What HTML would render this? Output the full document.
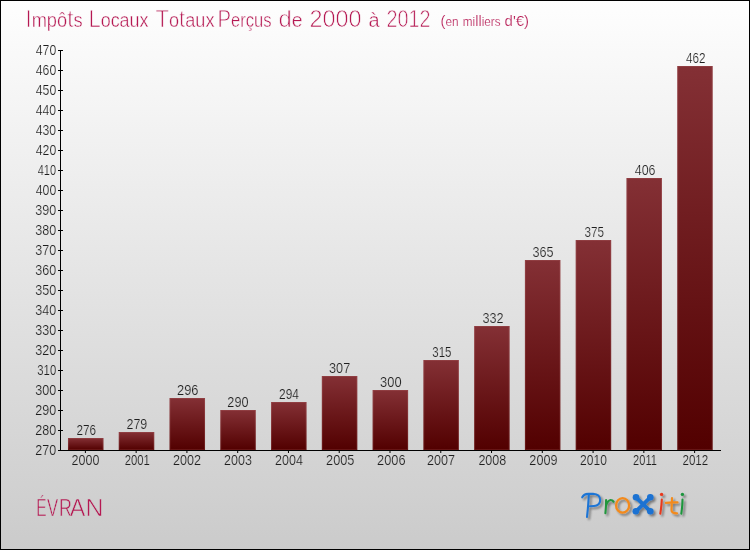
<!DOCTYPE html>
<html><head><meta charset="utf-8"><style>
html,body{margin:0;padding:0;width:750px;height:550px;overflow:hidden;}
svg text,svg tspan{font-family:"Liberation Sans",sans-serif;}
#frame{position:absolute;left:0;top:0;width:748px;height:548px;border:1px solid #000;background:linear-gradient(#fefefe,#cbcbcb);}
</style></head><body>
<div id="frame"></div>
<svg width="750" height="550" style="position:absolute;left:0;top:0;will-change:transform">
<defs><linearGradient id="gb" x1="0" y1="0" x2="0" y2="1"><stop offset="0" stop-color="#843035"/><stop offset="1" stop-color="#520000"/></linearGradient>
<filter id="sh" x="-20%" y="-20%" width="140%" height="140%"><feGaussianBlur in="SourceAlpha" stdDeviation="0.8"/><feOffset dx="2.2" dy="2.2"/><feComponentTransfer><feFuncA type="linear" slope="0.42"/></feComponentTransfer><feMerge><feMergeNode/><feMergeNode in="SourceGraphic"/></feMerge></filter>
</defs>
<g><rect x="67.98" y="438" width="35.5" height="12" fill="url(#gb)"/><rect x="67.98" y="438" width="1" height="12" fill="rgba(255,190,190,0.13)"/><rect x="102.48" y="438" width="1" height="12" fill="rgba(255,190,190,0.13)"/><rect x="68.98" y="438" width="33.50" height="1" fill="rgba(255,190,190,0.1)"/><rect x="68.98" y="449" width="33.50" height="1" fill="rgba(255,170,170,0.12)"/><line x1="85.38" y1="450" x2="85.38" y2="453" stroke="#000" stroke-width="1"/><rect x="118.75" y="432" width="35.5" height="18" fill="url(#gb)"/><rect x="118.75" y="432" width="1" height="18" fill="rgba(255,190,190,0.13)"/><rect x="153.25" y="432" width="1" height="18" fill="rgba(255,190,190,0.13)"/><rect x="119.75" y="432" width="33.50" height="1" fill="rgba(255,190,190,0.1)"/><rect x="119.75" y="449" width="33.50" height="1" fill="rgba(255,170,170,0.12)"/><line x1="136.15" y1="450" x2="136.15" y2="453" stroke="#000" stroke-width="1"/><rect x="169.52" y="398" width="35.5" height="52" fill="url(#gb)"/><rect x="169.52" y="398" width="1" height="52" fill="rgba(255,190,190,0.13)"/><rect x="204.02" y="398" width="1" height="52" fill="rgba(255,190,190,0.13)"/><rect x="170.52" y="398" width="33.50" height="1" fill="rgba(255,190,190,0.1)"/><rect x="170.52" y="449" width="33.50" height="1" fill="rgba(255,170,170,0.12)"/><line x1="186.92" y1="450" x2="186.92" y2="453" stroke="#000" stroke-width="1"/><rect x="220.29" y="410" width="35.5" height="40" fill="url(#gb)"/><rect x="220.29" y="410" width="1" height="40" fill="rgba(255,190,190,0.13)"/><rect x="254.79" y="410" width="1" height="40" fill="rgba(255,190,190,0.13)"/><rect x="221.29" y="410" width="33.50" height="1" fill="rgba(255,190,190,0.1)"/><rect x="221.29" y="449" width="33.50" height="1" fill="rgba(255,170,170,0.12)"/><line x1="237.69" y1="450" x2="237.69" y2="453" stroke="#000" stroke-width="1"/><rect x="271.06" y="402" width="35.5" height="48" fill="url(#gb)"/><rect x="271.06" y="402" width="1" height="48" fill="rgba(255,190,190,0.13)"/><rect x="305.56" y="402" width="1" height="48" fill="rgba(255,190,190,0.13)"/><rect x="272.06" y="402" width="33.50" height="1" fill="rgba(255,190,190,0.1)"/><rect x="272.06" y="449" width="33.50" height="1" fill="rgba(255,170,170,0.12)"/><line x1="288.46" y1="450" x2="288.46" y2="453" stroke="#000" stroke-width="1"/><rect x="321.83" y="376" width="35.5" height="74" fill="url(#gb)"/><rect x="321.83" y="376" width="1" height="74" fill="rgba(255,190,190,0.13)"/><rect x="356.33" y="376" width="1" height="74" fill="rgba(255,190,190,0.13)"/><rect x="322.83" y="376" width="33.50" height="1" fill="rgba(255,190,190,0.1)"/><rect x="322.83" y="449" width="33.50" height="1" fill="rgba(255,170,170,0.12)"/><line x1="339.23" y1="450" x2="339.23" y2="453" stroke="#000" stroke-width="1"/><rect x="372.60" y="390" width="35.5" height="60" fill="url(#gb)"/><rect x="372.60" y="390" width="1" height="60" fill="rgba(255,190,190,0.13)"/><rect x="407.10" y="390" width="1" height="60" fill="rgba(255,190,190,0.13)"/><rect x="373.60" y="390" width="33.50" height="1" fill="rgba(255,190,190,0.1)"/><rect x="373.60" y="449" width="33.50" height="1" fill="rgba(255,170,170,0.12)"/><line x1="390.00" y1="450" x2="390.00" y2="453" stroke="#000" stroke-width="1"/><rect x="423.37" y="360" width="35.5" height="90" fill="url(#gb)"/><rect x="423.37" y="360" width="1" height="90" fill="rgba(255,190,190,0.13)"/><rect x="457.87" y="360" width="1" height="90" fill="rgba(255,190,190,0.13)"/><rect x="424.37" y="360" width="33.50" height="1" fill="rgba(255,190,190,0.1)"/><rect x="424.37" y="449" width="33.50" height="1" fill="rgba(255,170,170,0.12)"/><line x1="440.77" y1="450" x2="440.77" y2="453" stroke="#000" stroke-width="1"/><rect x="474.14" y="326" width="35.5" height="124" fill="url(#gb)"/><rect x="474.14" y="326" width="1" height="124" fill="rgba(255,190,190,0.13)"/><rect x="508.64" y="326" width="1" height="124" fill="rgba(255,190,190,0.13)"/><rect x="475.14" y="326" width="33.50" height="1" fill="rgba(255,190,190,0.1)"/><rect x="475.14" y="449" width="33.50" height="1" fill="rgba(255,170,170,0.12)"/><line x1="491.54" y1="450" x2="491.54" y2="453" stroke="#000" stroke-width="1"/><rect x="524.91" y="260" width="35.5" height="190" fill="url(#gb)"/><rect x="524.91" y="260" width="1" height="190" fill="rgba(255,190,190,0.13)"/><rect x="559.41" y="260" width="1" height="190" fill="rgba(255,190,190,0.13)"/><rect x="525.91" y="260" width="33.50" height="1" fill="rgba(255,190,190,0.1)"/><rect x="525.91" y="449" width="33.50" height="1" fill="rgba(255,170,170,0.12)"/><line x1="542.31" y1="450" x2="542.31" y2="453" stroke="#000" stroke-width="1"/><rect x="575.68" y="240" width="35.5" height="210" fill="url(#gb)"/><rect x="575.68" y="240" width="1" height="210" fill="rgba(255,190,190,0.13)"/><rect x="610.18" y="240" width="1" height="210" fill="rgba(255,190,190,0.13)"/><rect x="576.68" y="240" width="33.50" height="1" fill="rgba(255,190,190,0.1)"/><rect x="576.68" y="449" width="33.50" height="1" fill="rgba(255,170,170,0.12)"/><line x1="593.08" y1="450" x2="593.08" y2="453" stroke="#000" stroke-width="1"/><rect x="626.45" y="178" width="35.5" height="272" fill="url(#gb)"/><rect x="626.45" y="178" width="1" height="272" fill="rgba(255,190,190,0.13)"/><rect x="660.95" y="178" width="1" height="272" fill="rgba(255,190,190,0.13)"/><rect x="627.45" y="178" width="33.50" height="1" fill="rgba(255,190,190,0.1)"/><rect x="627.45" y="449" width="33.50" height="1" fill="rgba(255,170,170,0.12)"/><line x1="643.85" y1="450" x2="643.85" y2="453" stroke="#000" stroke-width="1"/><rect x="677.22" y="66" width="35.5" height="384" fill="url(#gb)"/><rect x="677.22" y="66" width="1" height="384" fill="rgba(255,190,190,0.13)"/><rect x="711.72" y="66" width="1" height="384" fill="rgba(255,190,190,0.13)"/><rect x="678.22" y="66" width="33.50" height="1" fill="rgba(255,190,190,0.1)"/><rect x="678.22" y="449" width="33.50" height="1" fill="rgba(255,170,170,0.12)"/><line x1="694.62" y1="450" x2="694.62" y2="453" stroke="#000" stroke-width="1"/></g>
<g stroke="#000" stroke-width="1">
<line x1="60.5" y1="50" x2="60.5" y2="451"/>
<line x1="58" y1="450.5" x2="721" y2="450.5"/>
<line x1="58" y1="450.5" x2="63" y2="450.5"/><line x1="58" y1="430.5" x2="63" y2="430.5"/><line x1="58" y1="410.5" x2="63" y2="410.5"/><line x1="58" y1="390.5" x2="63" y2="390.5"/><line x1="58" y1="370.5" x2="63" y2="370.5"/><line x1="58" y1="350.5" x2="63" y2="350.5"/><line x1="58" y1="330.5" x2="63" y2="330.5"/><line x1="58" y1="310.5" x2="63" y2="310.5"/><line x1="58" y1="290.5" x2="63" y2="290.5"/><line x1="58" y1="270.5" x2="63" y2="270.5"/><line x1="58" y1="250.5" x2="63" y2="250.5"/><line x1="58" y1="230.5" x2="63" y2="230.5"/><line x1="58" y1="210.5" x2="63" y2="210.5"/><line x1="58" y1="190.5" x2="63" y2="190.5"/><line x1="58" y1="170.5" x2="63" y2="170.5"/><line x1="58" y1="150.5" x2="63" y2="150.5"/><line x1="58" y1="130.5" x2="63" y2="130.5"/><line x1="58" y1="110.5" x2="63" y2="110.5"/><line x1="58" y1="90.5" x2="63" y2="90.5"/><line x1="58" y1="70.5" x2="63" y2="70.5"/><line x1="58" y1="50.5" x2="63" y2="50.5"/>
</g>
<g font-size="14" fill="#1e1e1e" stroke-width="0.2"><text x="35.37" y="454.90" stroke="#d4d4d4" textLength="20.95" lengthAdjust="spacingAndGlyphs">270</text><text x="35.37" y="434.90" stroke="#d6d6d6" textLength="20.94" lengthAdjust="spacingAndGlyphs">280</text><text x="35.37" y="414.90" stroke="#d8d8d8" textLength="20.95" lengthAdjust="spacingAndGlyphs">290</text><text x="35.31" y="394.90" stroke="#d9d9d9" textLength="20.99" lengthAdjust="spacingAndGlyphs">300</text><text x="37.34" y="374.90" stroke="#dbdbdb" textLength="18.84" lengthAdjust="spacingAndGlyphs">310</text><text x="35.30" y="354.90" stroke="#dddddd" textLength="21.02" lengthAdjust="spacingAndGlyphs">320</text><text x="35.32" y="334.90" stroke="#dfdfdf" textLength="20.97" lengthAdjust="spacingAndGlyphs">330</text><text x="35.31" y="314.90" stroke="#e1e1e1" textLength="20.99" lengthAdjust="spacingAndGlyphs">340</text><text x="35.30" y="294.90" stroke="#e3e3e3" textLength="21.03" lengthAdjust="spacingAndGlyphs">350</text><text x="35.31" y="274.90" stroke="#e4e4e4" textLength="20.99" lengthAdjust="spacingAndGlyphs">360</text><text x="35.30" y="254.90" stroke="#e6e6e6" textLength="21.03" lengthAdjust="spacingAndGlyphs">370</text><text x="35.29" y="234.90" stroke="#e8e8e8" textLength="21.04" lengthAdjust="spacingAndGlyphs">380</text><text x="35.31" y="214.90" stroke="#eaeaea" textLength="21.00" lengthAdjust="spacingAndGlyphs">390</text><text x="35.72" y="194.90" stroke="#ececec" textLength="20.49" lengthAdjust="spacingAndGlyphs">400</text><text x="37.75" y="174.90" stroke="#eeeeee" textLength="18.36" lengthAdjust="spacingAndGlyphs">410</text><text x="35.72" y="154.90" stroke="#efefef" textLength="20.52" lengthAdjust="spacingAndGlyphs">420</text><text x="35.73" y="134.90" stroke="#f1f1f1" textLength="20.48" lengthAdjust="spacingAndGlyphs">430</text><text x="35.73" y="114.90" stroke="#f3f3f3" textLength="20.47" lengthAdjust="spacingAndGlyphs">440</text><text x="35.71" y="94.90" stroke="#f5f5f5" textLength="20.53" lengthAdjust="spacingAndGlyphs">450</text><text x="35.72" y="74.90" stroke="#f7f7f7" textLength="20.49" lengthAdjust="spacingAndGlyphs">460</text><text x="35.71" y="54.90" stroke="#f9f9f9" textLength="20.53" lengthAdjust="spacingAndGlyphs">470</text><text x="76.51" y="435.30" stroke="#d6d6d6" textLength="19.57" lengthAdjust="spacingAndGlyphs">276</text><text x="71.61" y="465.30" stroke="#d3d3d3" textLength="27.89" lengthAdjust="spacingAndGlyphs">2000</text><text x="126.50" y="429.30" stroke="#d6d6d6" textLength="20.79" lengthAdjust="spacingAndGlyphs">279</text><text x="124.68" y="465.30" stroke="#d3d3d3" textLength="25.22" lengthAdjust="spacingAndGlyphs">2001</text><text x="177.04" y="395.30" stroke="#d9d9d9" textLength="21.47" lengthAdjust="spacingAndGlyphs">296</text><text x="173.04" y="465.30" stroke="#d3d3d3" textLength="28.02" lengthAdjust="spacingAndGlyphs">2002</text><text x="227.34" y="407.30" stroke="#d8d8d8" textLength="21.16" lengthAdjust="spacingAndGlyphs">290</text><text x="224.08" y="465.30" stroke="#d3d3d3" textLength="27.79" lengthAdjust="spacingAndGlyphs">2003</text><text x="279.04" y="399.30" stroke="#d9d9d9" textLength="19.88" lengthAdjust="spacingAndGlyphs">294</text><text x="275.07" y="465.30" stroke="#d3d3d3" textLength="27.84" lengthAdjust="spacingAndGlyphs">2004</text><text x="329.06" y="373.30" stroke="#dbdbdb" textLength="21.17" lengthAdjust="spacingAndGlyphs">307</text><text x="326.10" y="465.30" stroke="#d3d3d3" textLength="28.37" lengthAdjust="spacingAndGlyphs">2005</text><text x="380.08" y="387.30" stroke="#dadada" textLength="21.50" lengthAdjust="spacingAndGlyphs">300</text><text x="377.07" y="465.30" stroke="#d3d3d3" textLength="28.49" lengthAdjust="spacingAndGlyphs">2006</text><text x="432.34" y="357.30" stroke="#dddddd" textLength="19.17" lengthAdjust="spacingAndGlyphs">315</text><text x="426.99" y="465.30" stroke="#d3d3d3" textLength="28.03" lengthAdjust="spacingAndGlyphs">2007</text><text x="482.39" y="323.30" stroke="#e0e0e0" textLength="21.12" lengthAdjust="spacingAndGlyphs">332</text><text x="478.38" y="465.30" stroke="#d3d3d3" textLength="27.93" lengthAdjust="spacingAndGlyphs">2008</text><text x="532.39" y="257.30" stroke="#e6e6e6" textLength="21.12" lengthAdjust="spacingAndGlyphs">365</text><text x="529.35" y="465.30" stroke="#d3d3d3" textLength="28.15" lengthAdjust="spacingAndGlyphs">2009</text><text x="584.47" y="237.30" stroke="#e8e8e8" textLength="19.48" lengthAdjust="spacingAndGlyphs">375</text><text x="580.07" y="465.30" stroke="#d3d3d3" textLength="26.80" lengthAdjust="spacingAndGlyphs">2010</text><text x="634.72" y="175.30" stroke="#eeeeee" textLength="20.77" lengthAdjust="spacingAndGlyphs">406</text><text x="633.10" y="465.30" stroke="#d3d3d3" textLength="23.81" lengthAdjust="spacingAndGlyphs">2011</text><text x="685.92" y="63.30" stroke="#f8f8f8" textLength="19.57" lengthAdjust="spacingAndGlyphs">462</text><text x="682.44" y="465.30" stroke="#d3d3d3" textLength="25.83" lengthAdjust="spacingAndGlyphs">2012</text></g>
<text x="25.42" y="27" font-size="20" fill="#b51852" stroke="#fcfcfc" stroke-width="0.4" textLength="57.11" lengthAdjust="spacingAndGlyphs"><tspan font-size="24.5" stroke-width="0.75">I</tspan>mpô<tspan font-size="24.5" stroke-width="0.75">t</tspan>s</text><text x="88.45" y="27" font-size="20" fill="#b51852" stroke="#fcfcfc" stroke-width="0.4" textLength="60.06" lengthAdjust="spacingAndGlyphs"><tspan font-size="24.5" stroke-width="0.75">L</tspan>ocaux</text><text x="155.47" y="27" font-size="20" fill="#b51852" stroke="#fcfcfc" stroke-width="0.4" textLength="59.03" lengthAdjust="spacingAndGlyphs"><tspan font-size="24.5" stroke-width="0.75">T</tspan>o<tspan font-size="24.5" stroke-width="0.75">t</tspan>aux</text><text x="217.46" y="27" font-size="20" fill="#b51852" stroke="#fcfcfc" stroke-width="0.4" textLength="54.09" lengthAdjust="spacingAndGlyphs"><tspan font-size="24.5" stroke-width="0.75">P</tspan>erçus</text><text x="278.43" y="27" font-size="20" fill="#b51852" stroke="#fcfcfc" stroke-width="0.4" textLength="24.10" lengthAdjust="spacingAndGlyphs"><tspan font-size="24.5" stroke-width="0.75">d</tspan>e</text><text x="309.44" y="27" font-size="20" fill="#b51852" stroke="#fcfcfc" stroke-width="0.4" textLength="52.11" lengthAdjust="spacingAndGlyphs"><tspan font-size="24.5" stroke-width="0.75">2</tspan><tspan font-size="24.5" stroke-width="0.75">0</tspan><tspan font-size="24.5" stroke-width="0.75">0</tspan><tspan font-size="24.5" stroke-width="0.75">0</tspan></text><text x="368.51" y="27" font-size="20" fill="#b51852" stroke="#fcfcfc" stroke-width="0.4" textLength="11.08" lengthAdjust="spacingAndGlyphs">à</text><text x="386.45" y="27" font-size="20" fill="#b51852" stroke="#fcfcfc" stroke-width="0.4" textLength="44.10" lengthAdjust="spacingAndGlyphs"><tspan font-size="24.5" stroke-width="0.75">2</tspan><tspan font-size="24.5" stroke-width="0.75">0</tspan><tspan font-size="24.5" stroke-width="0.75">1</tspan><tspan font-size="24.5" stroke-width="0.75">2</tspan></text><text x="440.50" y="26.3" font-size="12.5" fill="#b51852" stroke="#fcfcfc" stroke-width="0.2" textLength="18.04" lengthAdjust="spacingAndGlyphs"><tspan font-size="15.5">(</tspan>en</text><text x="462.86" y="26.3" font-size="12.5" fill="#b51852" stroke="#fcfcfc" stroke-width="0.2" textLength="37.72" lengthAdjust="spacingAndGlyphs">mi<tspan font-size="15.5">l</tspan><tspan font-size="15.5">l</tspan>iers</text><text x="504.57" y="26.3" font-size="12.5" fill="#b51852" stroke="#fcfcfc" stroke-width="0.2" textLength="24.49" lengthAdjust="spacingAndGlyphs"><tspan font-size="15.5">d</tspan><tspan font-size="15.5">'</tspan><tspan font-size="15.5">€</tspan><tspan font-size="15.5">)</tspan></text>
<text x="36.25" y="516" font-size="23.5" fill="#b51852" stroke="#cfcfcf" stroke-width="0.6" textLength="10.37" lengthAdjust="spacingAndGlyphs">É</text><text x="46.91" y="516" font-size="23.5" fill="#b51852" stroke="#cfcfcf" stroke-width="0.6" textLength="11.17" lengthAdjust="spacingAndGlyphs">V</text><text x="59.10" y="516" font-size="23.5" fill="#b51852" stroke="#cfcfcf" stroke-width="0.6" textLength="12.91" lengthAdjust="spacingAndGlyphs">R</text><text x="69.82" y="516" font-size="23.5" fill="#b51852" stroke="#cfcfcf" stroke-width="0.6" textLength="15.55" lengthAdjust="spacingAndGlyphs">A</text><text x="85.51" y="516" font-size="23.5" fill="#b51852" stroke="#cfcfcf" stroke-width="0.6" textLength="18.01" lengthAdjust="spacingAndGlyphs">N</text>
<g filter="url(#sh)" fill="none" stroke-linecap="round" stroke-linejoin="round">

<path d="M582.2 497.3 Q584 494 588 493.9 L593 493.8 Q600 494.3 600.2 500 Q600 505.6 594 506 L590 506.2" stroke="#1d74d5" stroke-width="2.1"/>
<path d="M588.8 495 Q588.3 506 587 517" stroke="#1d74d5" stroke-width="2.1"/>
<path d="M606.1 500 Q606.1 507 605.4 513.2 M606 506 Q607.5 500.5 610.5 500 Q612.5 500 613.5 501.6" stroke="#22963c" stroke-width="2.1"/>
<ellipse cx="622.6" cy="505.4" rx="6.5" ry="7.3" stroke="#f38a1b" stroke-width="2.3"/>
<path d="M636 497.3 L650.3 511.3 M650.3 497.3 L636 511.3" stroke="#1a72d2" stroke-width="3.8"/>
<circle cx="636" cy="497.3" r="3.3" fill="#1a72d2" stroke="none"/><circle cx="650.3" cy="497.3" r="3.3" fill="#1a72d2" stroke="none"/>
<circle cx="635.8" cy="511.3" r="3.3" fill="#1a72d2" stroke="none"/><circle cx="650.3" cy="511.3" r="3.3" fill="#1a72d2" stroke="none"/>
<path d="M661.8 499.5 Q661.5 507 660.3 513.6" stroke="#e8391c" stroke-width="2.1"/><circle cx="661.6" cy="494.4" r="1.7" fill="#e8391c" stroke="none"/>
<path d="M672 498.2 L671.5 510 Q671.5 513.3 677 513.4 M665.8 502.9 Q671 502 677.5 502.4" stroke="#f38a1b" stroke-width="2.2"/>
<path d="M682.5 499.5 Q682.4 507 681.3 513.6" stroke="#1f963e" stroke-width="2.1"/><circle cx="682.4" cy="494.4" r="1.7" fill="#1f963e" stroke="none"/>

</g>
</svg>
</body></html>
